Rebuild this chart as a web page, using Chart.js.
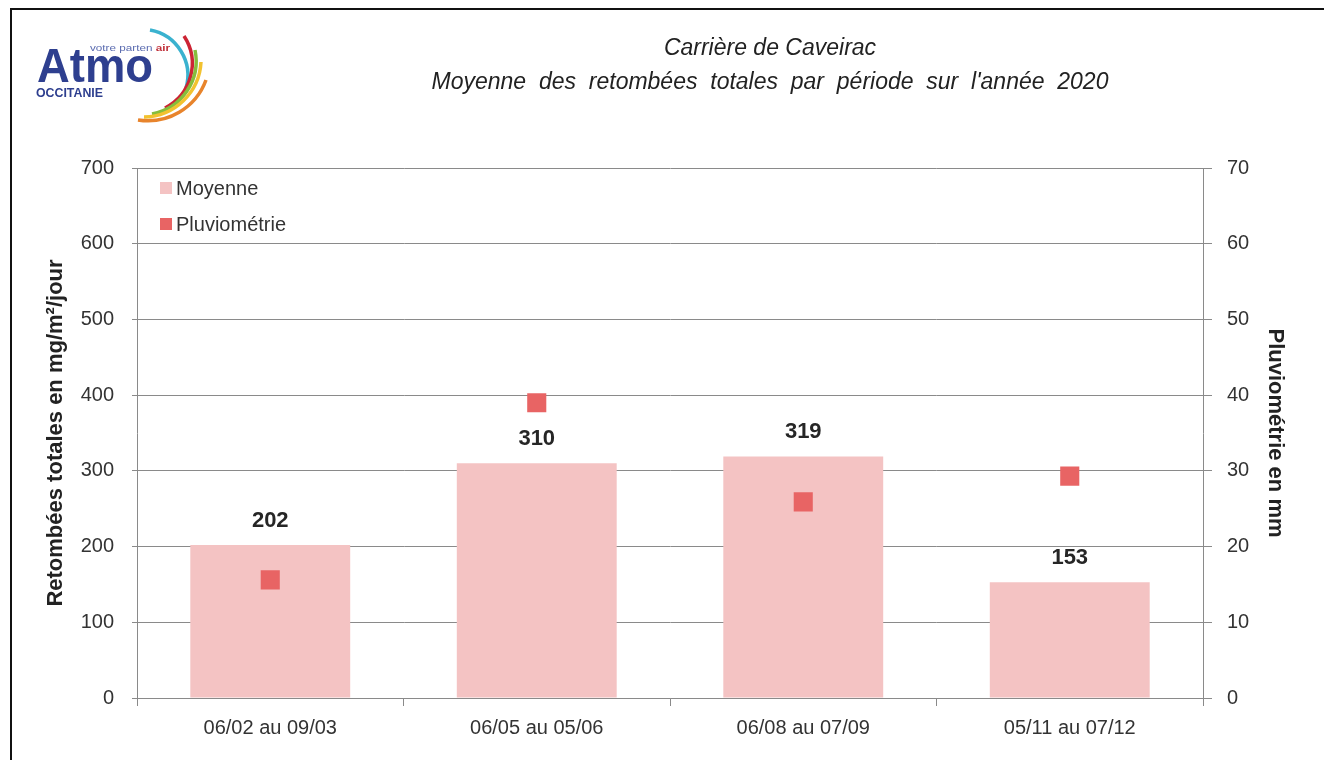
<!DOCTYPE html>
<html>
<head>
<meta charset="utf-8">
<script src="https://cdn.jsdelivr.net/npm/chart.js@4.4.1/dist/chart.umd.min.js"></script>
<style>
  body { margin: 0; background: #fff; }
  #page { position: relative; width: 1324px; height: 760px; overflow: hidden; background: #fff;
          font-family: "Liberation Sans", Arial, sans-serif; }
  #frame { position: absolute; left: 10px; top: 8px; width: 1330px; height: 770px; border: 2px solid #111; box-sizing: border-box; }
  #chart { position: absolute; left: 0; top: 0; }
  #title { position: absolute; left: 420px; width: 700px; top: 30px; text-align: center;
           font-style: italic; font-size: 23px; line-height: 34px; color: #222; }
  #legend { position: absolute; left: 160px; top: 170px; font-size: 20px; color: #333; }
  #legend div { height: 36px; display: flex; align-items: center; }
  #legend span.sw { display: inline-block; width: 12px; height: 12px; margin-right: 4px; }
  #logo { position: absolute; left: 0; top: 0; }
</style>
</head>
<body>
<div id="page">
  <canvas id="chart" width="1324" height="760"></canvas>
  <div id="frame"></div>
  <svg id="logo" width="230" height="130">
    <text x="37" y="82" font-family="Liberation Sans, Arial, sans-serif" font-weight="bold" font-size="48" fill="#2e3f8f" textLength="116" lengthAdjust="spacingAndGlyphs">Atmo</text>
    <text x="90" y="51" font-family="Liberation Sans, Arial, sans-serif" font-size="9.5" fill="#5a6bb0" textLength="80" lengthAdjust="spacingAndGlyphs">votre parten <tspan font-weight="bold" fill="#c0303a">air</tspan></text>
    <text x="36" y="97" font-family="Liberation Sans, Arial, sans-serif" font-weight="bold" font-size="13" fill="#2e3f8f" textLength="67" lengthAdjust="spacingAndGlyphs">OCCITANIE</text>
    <path d="M 150 30 A 46 46 0 0 1 186 88" fill="none" stroke="#3ab2cf" stroke-width="3.5"/>
    <path d="M 184 36 A 50 50 0 0 1 165 108" fill="none" stroke="#cc2434" stroke-width="3.5"/>
    <path d="M 195 50 A 54 54 0 0 1 152 114" fill="none" stroke="#86bd3c" stroke-width="3.5"/>
    <path d="M 201 62 A 58 58 0 0 1 144 117" fill="none" stroke="#f2c230" stroke-width="3.5"/>
    <path d="M 206 80 A 62 62 0 0 1 138 120" fill="none" stroke="#e8842c" stroke-width="3.5"/>
  </svg>
  <div id="title">Carrière de Caveirac<br>Moyenne&nbsp; des&nbsp; retombées&nbsp; totales&nbsp; par&nbsp; période&nbsp; sur&nbsp; l'année&nbsp; 2020</div>
  <div id="legend">
    <div><span class="sw" style="background:#f4c3c3"></span>Moyenne</div>
    <div><span class="sw" style="background:#e86464"></span>Pluviométrie</div>
  </div>
</div>
<script>
const periodes = ["06/02 au 09/03", "06/05 au 05/06", "06/08 au 07/09", "05/11 au 07/12"];
const moyenne = [202, 310, 319, 153];
const pluviometrie = [15.6, 39.0, 25.9, 29.3];
const retombeesTicks = [0, 100, 200, 300, 400, 500, 600, 700];
const pluieTicks = [0, 10, 20, 30, 40, 50, 60, 70];

const FONT = "'Liberation Sans', Arial, sans-serif";
const GRID = "#8a8a8a";

// bold value above each bar
const barLabels = {
  id: "barLabels",
  afterDatasetsDraw(chart) {
    const ctx = chart.ctx;
    const meta = chart.getDatasetMeta(1);
    ctx.save();
    ctx.font = "bold 22px " + FONT;
    ctx.fillStyle = "#262626";
    ctx.textAlign = "center";
    ctx.textBaseline = "alphabetic";
    meta.data.forEach((bar, i) => {
      ctx.fillText(moyenne[i], bar.x, bar.y - 18);
    });
    ctx.restore();
  }
};

new Chart(document.getElementById("chart"), {
  data: {
    labels: periodes,
    datasets: [
      {
        type: "scatter",
        label: "Pluviométrie",
        data: pluviometrie.map((v, i) => ({ x: periodes[i], y: v })),
        yAxisID: "y1",
        pointStyle: "rect",
        pointRadius: 13.5,
        pointHoverRadius: 13.5,
        backgroundColor: "#e86464",
        borderColor: "#e86464",
        borderWidth: 0,
        order: 0
      },
      {
        type: "bar",
        label: "Moyenne",
        data: moyenne,
        yAxisID: "y",
        backgroundColor: "#f4c3c3",
        categoryPercentage: 0.6,
        barPercentage: 1,
        order: 1
      }
    ]
  },
  options: {
    responsive: false,
    animation: false,
    layout: { padding: { left: 43, right: 36, top: 168, bottom: 0 } },
    plugins: { legend: { display: false }, tooltip: { enabled: false } },
    scales: {
      x: {
        type: "category",
        offset: true,
        afterFit: s => { s.height = 62; },
        grid: { offset: true, drawOnChartArea: false, tickLength: 8, color: GRID },
        border: { color: GRID },
        ticks: { padding: 10, color: "#333", font: { family: FONT, size: 20 } }
      },
      y: {
        position: "left",
        min: 0, max: 700,
        afterFit: s => { s.width = 94; },
        afterBuildTicks: s => { s.ticks = retombeesTicks.map(v => ({ value: v })); },
        grid: { color: GRID, tickLength: 5 },
        border: { color: GRID },
        ticks: { padding: 18, color: "#333", font: { family: FONT, size: 20 } },
        title: { display: true, text: "Retombées totales en mg/m²/jour", color: "#222",
                 font: { family: FONT, size: 22, weight: "bold" }, padding: 0 }
      },
      y1: {
        position: "right",
        min: 0, max: 70,
        afterFit: s => { s.width = 85; },
        afterBuildTicks: s => { s.ticks = pluieTicks.map(v => ({ value: v })); },
        grid: { drawOnChartArea: false, color: GRID, tickLength: 9 },
        border: { color: GRID },
        ticks: { padding: 15, color: "#333", font: { family: FONT, size: 20 } },
        title: { display: true, text: "Pluviométrie en mm", color: "#222",
                 font: { family: FONT, size: 22, weight: "bold" }, padding: 0 }
      }
    }
  },
  plugins: [barLabels]
});
</script>
</body>
</html>
